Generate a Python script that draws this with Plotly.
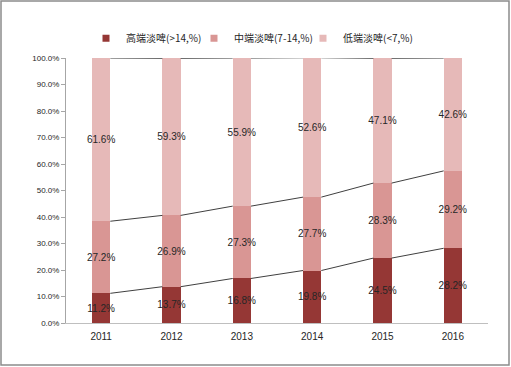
import plotly.graph_objects as go

years = [2011, 2012, 2013, 2014, 2015, 2016]
high = [11.2, 13.7, 16.8, 19.8, 24.5, 28.2]
mid = [27.2, 26.9, 27.3, 27.7, 28.3, 29.2]
low = [61.6, 59.3, 55.9, 52.6, 47.1, 42.6]
names = ["高端淡啤(>14,%)", "中端淡啤(7-14,%)", "低端淡啤(<7,%)"]
colors = ["#953735", "#D99694", "#E6B9B8"]
yticks = [0, 10, 20, 30, 40, 50, 60, 70, 80, 90, 100]

W, H = 511, 367
ML, MR, MT, MB = 66, 23, 58, 44
BW = 0.26

fig = go.Figure()
for vals, nm, col in zip([high, mid, low], names, colors):
    fig.add_trace(go.Bar(
        x=years, y=vals, name=nm, width=BW, showlegend=False,
        marker=dict(color=col, line=dict(width=0)),
        text=[f"{v:.1f}%" for v in vals],
        textposition="inside", insidetextanchor="middle",
        textangle=0, constraintext="none",
        textfont=dict(color="#262626", size=10, family="Liberation Sans"),
        hoverinfo="skip",
    ))

# series lines between stacked segment tops
cum1 = high
cum2 = [a + b for a, b in zip(high, mid)]
cum3 = [a + b + c for a, b, c in zip(high, mid, low)]
for cum in [cum1, cum2, cum3]:
    xs, ys = [], []
    for i in range(len(years) - 1):
        xs += [years[i] + BW / 2, years[i + 1] - BW / 2, None]
        ys += [cum[i], cum[i + 1], None]
    fig.add_trace(go.Scatter(x=xs, y=ys, mode="lines", showlegend=False,
                             line=dict(color="#404040", width=1), hoverinfo="skip"))

# legend entries (small square markers), one legend each
legend_keys = ["legend", "legend2", "legend3"]
for nm, col, lk in zip(names, colors, legend_keys):
    fig.add_trace(go.Scatter(x=[years[0]], y=[None], mode="markers", name=nm,
                             marker=dict(symbol="square", size=7, color=col),
                             showlegend=True, legend=lk, hoverinfo="skip"))

pw = W - ML - MR
ph = H - MT - MB
fig.add_shape(type="rect", xref="paper", yref="paper",
              x0=(1 - ML) / pw, x1=(W - 2 - ML) / pw,
              y0=(H - MB - (H - 2)) / ph, y1=(H - MB - 1) / ph,
              line=dict(color="#8C8C8C", width=1.5), fillcolor="rgba(0,0,0,0)")

leg_common = dict(orientation="h", y=1.075, yanchor="middle", xanchor="left",
                  font=dict(family="Noto Sans CJK SC", size=10, color="#262626"),
                  itemwidth=30, itemclick=False, itemdoubleclick=False,
                  bgcolor="rgba(0,0,0,0)")
leg_x = [0.0474, 0.3033, 0.5616]

fig.update_layout(
    width=W, height=H,
    margin=dict(l=ML, r=MR, t=MT, b=MB),
    barmode="stack",
    hovermode=False,
    plot_bgcolor="white", paper_bgcolor="white",
    font=dict(family="Liberation Sans", size=9, color="#262626"),
    legend=dict(x=leg_x[0], **leg_common),
    legend2=dict(x=leg_x[1], **leg_common),
    legend3=dict(x=leg_x[2], **leg_common),
    xaxis=dict(range=[years[0] - 0.5, years[-1] + 0.5], tickvals=years,
               ticktext=[str(y) for y in years], showgrid=False, zeroline=False,
               showline=True, linecolor="#BFBFBF", linewidth=1, ticks="",
               ticklabelstandoff=4, tickfont=dict(size=10)),
    yaxis=dict(range=[0, 100], tickvals=yticks,
               ticktext=[f"{v:.1f}%" for v in yticks], showgrid=False, zeroline=False,
               showline=True, linecolor="#A6A6A6", linewidth=1, ticks="outside",
               ticklen=4, tickcolor="#A6A6A6", tickfont=dict(size=8)),
)

fig.write_html("out.html", config={"displayModeBar": False, "staticPlot": True},
               post_script="document.body.style.margin='0';document.body.style.overflow='hidden';")
